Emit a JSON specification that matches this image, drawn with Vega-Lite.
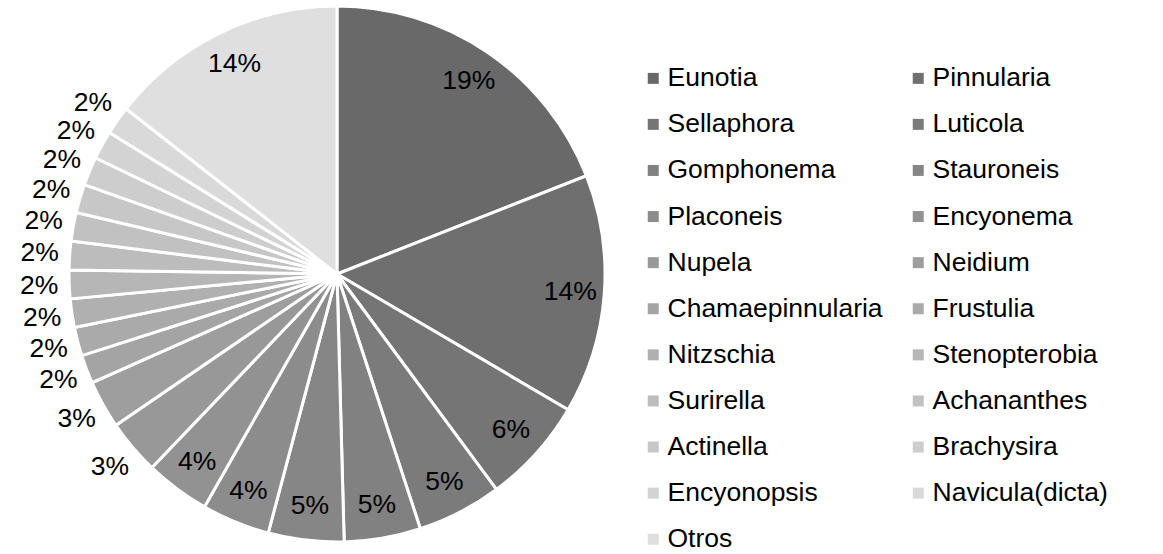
{
  "$schema": "https://vega.github.io/schema/vega-lite/v6.json",
  "width": 674,
  "height": 540,
  "padding": 0,
  "background": "white",
  "config": {"view": {"stroke": null}},
  "data": {
    "values": [
      {"i": 0, "genus": "Eunotia", "share": 0.190},
      {"i": 1, "genus": "Pinnularia", "share": 0.144},
      {"i": 2, "genus": "Sellaphora", "share": 0.064},
      {"i": 3, "genus": "Luticola", "share": 0.051},
      {"i": 4, "genus": "Gomphonema", "share": 0.046},
      {"i": 5, "genus": "Stauroneis", "share": 0.0455},
      {"i": 6, "genus": "Placoneis", "share": 0.041},
      {"i": 7, "genus": "Encyonema", "share": 0.039},
      {"i": 8, "genus": "Nupela", "share": 0.033},
      {"i": 9, "genus": "Neidium", "share": 0.029},
      {"i": 10, "genus": "Chamaepinnularia", "share": 0.0172},
      {"i": 11, "genus": "Frustulia", "share": 0.0172},
      {"i": 12, "genus": "Nitzschia", "share": 0.0172},
      {"i": 13, "genus": "Stenopterobia", "share": 0.0172},
      {"i": 14, "genus": "Surirella", "share": 0.0172},
      {"i": 15, "genus": "Achananthes", "share": 0.0172},
      {"i": 16, "genus": "Actinella", "share": 0.0172},
      {"i": 17, "genus": "Brachysira", "share": 0.0172},
      {"i": 18, "genus": "Encyonopsis", "share": 0.0172},
      {"i": 19, "genus": "Navicula(dicta)", "share": 0.0172},
      {"i": 20, "genus": "Otros", "share": 0.144}
    ]
  },
  "encoding": {
    "theta": {"field": "share", "type": "quantitative", "stack": true},
    "order": {"field": "i", "type": "quantitative"}
  },
  "layer": [
    {
      "mark": {"type": "arc", "radius": 268, "stroke": "white", "strokeWidth": 3},
      "encoding": {
        "color": {
          "field": "genus",
          "type": "nominal",
          "scale": {
            "domain": ["Eunotia", "Pinnularia", "Sellaphora", "Luticola", "Gomphonema", "Stauroneis", "Placoneis", "Encyonema", "Nupela", "Neidium", "Chamaepinnularia", "Frustulia", "Nitzschia", "Stenopterobia", "Surirella", "Achananthes", "Actinella", "Brachysira", "Encyonopsis", "Navicula(dicta)", "Otros"],
            "range": ["#696969", "#6f6f6f", "#757575", "#7b7b7b", "#818181", "#868686", "#8c8c8c", "#929292", "#989898", "#9e9e9e", "#a4a4a4", "#aaaaaa", "#b0b0b0", "#b6b6b6", "#bcbcbc", "#c1c1c1", "#c7c7c7", "#cdcdcd", "#d3d3d3", "#d9d9d9", "#dfdfdf"]
          },
          "legend": {
            "orient": "none",
            "direction": "horizontal",
            "legendX": 640,
            "legendY": 61,
            "columns": 2,
            "title": null,
            "symbolType": "square",
            "symbolSize": 121,
            "symbolStrokeWidth": 0,
            "symbolOpacity": 1,
            "labelFont": "Liberation Sans",
            "labelFontSize": 26.5,
            "labelColor": "black",
            "labelOffset": 1,
            "labelLimit": 400,
            "rowPadding": 19.1,
            "columnPadding": 22,
            "padding": 0
          }
        }
      }
    },
    {
      "mark": {"type": "text", "radius": 234, "font": "Liberation Sans", "color": "black", "align": "center", "baseline": "middle"},
      "encoding": {
        "text": {"condition": {"test": "datum.share < 0.035", "value": ""}, "field": "share", "type": "quantitative", "format": ".0%"},
        "size": {"condition": {"test": "datum.share < 0.035", "value": 0}, "value": 26.5}
      }
    },
    {
      "mark": {"type": "text", "radius": 298, "font": "Liberation Sans", "color": "black", "align": "center", "baseline": "middle"},
      "encoding": {
        "text": {"condition": {"test": "datum.share >= 0.035", "value": ""}, "field": "share", "type": "quantitative", "format": ".0%"},
        "size": {"condition": {"test": "datum.share >= 0.035", "value": 0}, "value": 26.5}
      }
    }
  ]
}
